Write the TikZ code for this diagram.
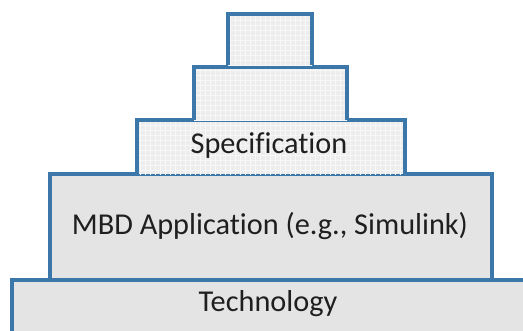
\documentclass[tikz,border=0pt]{standalone}
\usepackage{fontspec}
\setmainfont[Ligatures=NoCommon]{Carlito}
\definecolor{edgeblue}{HTML}{3B77A8}
\definecolor{plainfill}{HTML}{E4E4E4}
\definecolor{gridfill}{HTML}{EDEDED}
\definecolor{gridline}{HTML}{F7F7F7}
\begin{document}
\begin{tikzpicture}[x=1pt,y=-1pt,
  layer/.style={draw=edgeblue,line width=4.3pt,fill=plainfill},
  edge/.style={draw=edgeblue,line width=4.3pt},
  gridlines/.style={gridline,line width=0.8pt},
  lbl/.style={font=\fontsize{30.3}{35}\selectfont,text=black!88,inner sep=0pt}]
\useasboundingbox (0,0) rectangle (523,330);
% Technology
\draw[layer] (12,280) rectangle (535,340);
\node[lbl] (tech) at (268,304) {Technology};
% MBD Application
\draw[layer] (50,174) rectangle (492,280);
\node[lbl] (mbd) at (270,226) {MBD Application (e.g., Simulink)};
% Specification
\fill[gridfill] (137,120) rectangle (405,174);
\begin{scope}
\clip (137,120) rectangle (405,174);
\draw[gridlines,step=5pt] (130,115) grid (410,180);
\end{scope}
\draw[edge] (137,174) -- (137,120) -- (405,120) -- (405,174);
\node[lbl] (spec) at (269,146) {Specification};
% second layer
\fill[gridfill] (194,67) rectangle (347,120);
\begin{scope}
\clip (194,67) rectangle (347,120);
\draw[gridlines,step=5pt] (190,60) grid (350,125);
\end{scope}
\draw[edge] (194,120) -- (194,67) -- (347,67) -- (347,120);
% top layer
\fill[gridfill] (228,14) rectangle (312,65);
\begin{scope}
\clip (228,14) rectangle (312,65);
\draw[gridlines,step=5pt] (225,10) grid (315,70);
\end{scope}
\draw[edge] (228,65) -- (228,14) -- (312,14) -- (312,65);
\end{tikzpicture}
\end{document}
